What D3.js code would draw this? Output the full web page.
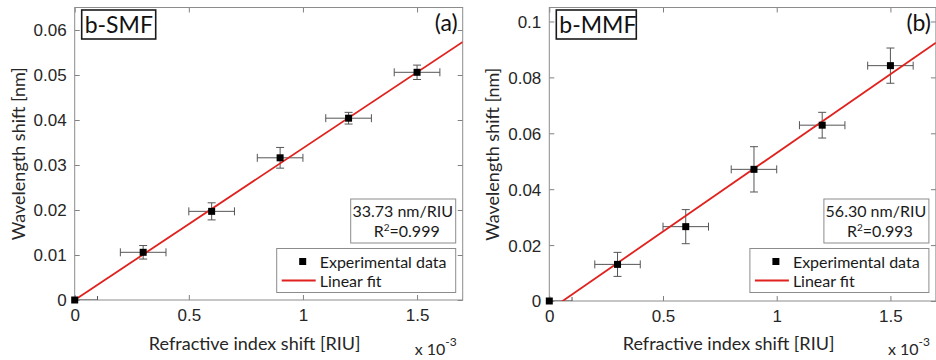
<!DOCTYPE html>
<html>
<head>
<meta charset="utf-8">
<script src="https://cdn.jsdelivr.net/npm/d3@7"></script>
<style>
  body { margin: 0; background: #fff; }
  svg { display: block; font-family: Lato, "Noto Sans", sans-serif; }
  .tick text { fill: #262626; font-size: 17px; }
  .tick line { stroke: #808080; }
  .domain { display: none; }
</style>
</head>
<body>
<div id="chart"></div>
<script>
// refractive index shift, in units of 10^-3 RIU
const riuShift = [0, 0.3, 0.6, 0.9, 1.2, 1.5];
const riuErr = [0.1, 0.1, 0.1, 0.1, 0.1, 0.1];

// b-SMF wavelength shift [nm]
const smfShift = [0, 0.0106, 0.0197, 0.0316, 0.0404, 0.0506];
const smfErr = [0, 0.0015, 0.0019, 0.0023, 0.0013, 0.0016];
// b-MMF wavelength shift [nm]
const mmfShift = [0, 0.0131, 0.0266, 0.0471, 0.0629, 0.0842];
const mmfErr = [0, 0.0043, 0.0061, 0.0081, 0.0046, 0.0063];

// linear fits: slope [nm per 10^-3 RIU], intercept [nm]
const fitSlope = [0.03373, 0.0563];
const fitIntercept = [0, -0.0033];

const panelNames = ['b-SMF', 'b-MMF'];
const panelTags = ['(a)', '(b)'];
const sensitivity = ['33.73 nm/RIU', '56.30 nm/RIU'];
const rSquared = ['0.999', '0.993'];
const xTicks = [0, 0.5, 1, 1.5];
const yTicksSmf = [0, 0.01, 0.02, 0.03, 0.04, 0.05, 0.06];
const yTicksMmf = [0, 0.02, 0.04, 0.06, 0.08, 0.1];

const W = 936, H = 360;
const svg = d3.select('#chart').append('svg')
  .attr('width', W)
  .attr('height', H);

const panels = [
  { left: 74.7, right: 462.7, top: 7.5, bottom: 300, yMax: 0.065, ys: smfShift, ye: smfErr, yTicks: yTicksSmf, fmt: d3.format('.2f') },
  { left: 549.3, right: 935.9, top: 7.5, bottom: 301, yMax: 0.105, ys: mmfShift, ye: mmfErr, yTicks: yTicksMmf, fmt: d3.format('.2f') }
];

panels.forEach((p, i) => drawPanel(p, i));

function drawPanel(p, i) {
  const x = d3.scaleLinear().domain([0, 1.7]).range([p.left, p.right]);
  const y = d3.scaleLinear().domain([0, p.yMax]).range([p.bottom, p.top]);
  const g = svg.append('g');

  const clipId = 'clip' + i;
  svg.append('clipPath').attr('id', clipId)
    .append('rect')
    .attr('x', p.left).attr('y', p.top)
    .attr('width', p.right - p.left).attr('height', p.bottom - p.top);

  const yFmt = d => d === 0 ? '0' : (i === 1 && d === 0.1 ? '0.1' : p.fmt(d));
  const xFmt = d => d === 0 ? '0' : d3.format('~g')(d);

  // axes with inward ticks
  g.append('g').attr('transform', `translate(0,${p.bottom})`)
    .call(d3.axisBottom(x).tickValues(xTicks).tickSize(-5).tickSizeOuter(0).tickPadding(9).tickFormat(xFmt));
  g.append('g').attr('transform', `translate(0,${p.top})`)
    .call(d3.axisTop(x).tickValues(xTicks).tickSize(-5).tickSizeOuter(0).tickFormat(''));
  g.append('g').attr('transform', `translate(${p.left},0)`)
    .call(d3.axisLeft(y).tickValues(p.yTicks).tickSize(-5).tickSizeOuter(0).tickPadding(8).tickFormat(yFmt));
  g.append('g').attr('transform', `translate(${p.right},0)`)
    .call(d3.axisRight(y).tickValues(p.yTicks).tickSize(-5).tickSizeOuter(0).tickFormat(''));
  g.selectAll('.tick text').attr('dy', null);
  g.selectAll('.tick text').filter(function() { return this.parentNode.parentNode.getAttribute('transform').startsWith('translate(0'); })
    .attr('dy', '0.71em');
  g.selectAll('.tick text').filter(function() { return !this.parentNode.parentNode.getAttribute('transform').startsWith('translate(0'); })
    .attr('dy', '0.35em');

  g.append('rect')
    .attr('x', p.left).attr('y', p.top)
    .attr('width', p.right - p.left).attr('height', p.bottom - p.top)
    .attr('fill', 'none').attr('stroke', '#8c8c8c').attr('stroke-width', 1);

  const pts = riuShift.map((d, k) => ({ x: d, xe: riuErr[k], y: p.ys[k], ye: p.ye[k] }));
  const eb = g.append('g').attr('clip-path', `url(#${clipId})`)
    .attr('stroke', '#555').attr('stroke-width', 1).attr('fill', 'none');

  pts.forEach(d => {
    const cx = x(d.x), cy = y(d.y);
    if (d.ye > 0) {
      const y0 = y(d.y - d.ye), y1 = y(d.y + d.ye);
      eb.append('line').attr('x1', cx).attr('x2', cx).attr('y1', y0).attr('y2', y1);
      eb.append('line').attr('x1', cx - 4).attr('x2', cx + 4).attr('y1', y0).attr('y2', y0);
      eb.append('line').attr('x1', cx - 4).attr('x2', cx + 4).attr('y1', y1).attr('y2', y1);
    }
    const x0 = x(d.x - d.xe), x1 = x(d.x + d.xe);
    eb.append('line').attr('x1', x0).attr('x2', x1).attr('y1', cy).attr('y2', cy);
    eb.append('line').attr('x1', x0).attr('x2', x0).attr('y1', cy - 4).attr('y2', cy + 4);
    eb.append('line').attr('x1', x1).attr('x2', x1).attr('y1', cy - 4).attr('y2', cy + 4);
  });

  // linear fit
  const fx = [0, 1.7];
  const line = d3.line().x(d => x(d)).y(d => y(fitSlope[i] * d + fitIntercept[i]));
  g.append('path').datum(fx)
    .attr('clip-path', `url(#${clipId})`)
    .attr('d', line)
    .attr('fill', 'none').attr('stroke', '#e0211d').attr('stroke-width', 1.8);

  // markers
  g.selectAll('rect.mk').data(pts).join('rect')
    .attr('class', 'mk')
    .attr('x', d => x(d.x) - 3.5).attr('y', d => y(d.y) - 3.5)
    .attr('width', 7).attr('height', 7).attr('fill', '#000');

  // panel name box
  const nameBox = g.append('g');
  nameBox.append('rect')
    .attr('x', p.left + 7).attr('y', p.top + 2.5)
    .attr('width', i === 0 ? 74 : 80).attr('height', 29)
    .attr('fill', '#fff').attr('stroke', '#1a1a1a').attr('stroke-width', 1.6);
  nameBox.append('text')
    .attr('x', p.left + 10).attr('y', p.top + 25)
    .attr('font-size', 23).attr('fill', '#111')
    .text(panelNames[i]);

  g.append('text')
    .attr('x', p.right - 5).attr('y', p.top + 23)
    .attr('text-anchor', 'end').attr('font-size', 23).attr('fill', '#111')
    .text(panelTags[i]);

  // sensitivity box
  const bx = p.right - 112, by = 199;
  g.append('rect').attr('x', bx).attr('y', by).attr('width', 105).attr('height', 44)
    .attr('fill', '#fff').attr('stroke', '#8c8c8c');
  g.append('text').attr('x', bx + 52).attr('y', by + 18)
    .attr('text-anchor', 'middle').attr('font-size', 16).attr('fill', '#1a1a1a')
    .text(sensitivity[i]);
  const r2 = g.append('text').attr('x', bx + 56).attr('y', by + 38)
    .attr('text-anchor', 'middle').attr('font-size', 16).attr('fill', '#1a1a1a');
  r2.append('tspan').text('R');
  r2.append('tspan').attr('font-size', 10).attr('dy', -6).text('2');
  r2.append('tspan').attr('dy', 6).text('=' + rSquared[i]);

  // legend
  const lx = p.right - 186, ly = 248.5;
  g.append('rect').attr('x', lx).attr('y', ly).attr('width', 179).attr('height', 44)
    .attr('fill', '#fff').attr('stroke', '#8c8c8c');
  g.append('rect').attr('x', lx + 22.5).attr('y', ly + 9.5).attr('width', 7).attr('height', 7).attr('fill', '#000');
  g.append('text').attr('x', lx + 43).attr('y', ly + 19).attr('font-size', 16).attr('fill', '#1a1a1a')
    .text('Experimental data');
  g.append('line').attr('x1', lx + 5).attr('x2', lx + 39).attr('y1', ly + 32).attr('y2', ly + 32)
    .attr('stroke', '#e0211d').attr('stroke-width', 1.8);
  g.append('text').attr('x', lx + 43).attr('y', ly + 38).attr('font-size', 16).attr('fill', '#1a1a1a')
    .text('Linear fit');

  // axis titles
  g.append('text')
    .attr('x', (p.left + p.right) / 2 - 14).attr('y', 350)
    .attr('text-anchor', 'middle').attr('font-size', 18).attr('fill', '#262626')
    .text('Refractive index shift [RIU]');
  const ex = g.append('text')
    .attr('x', p.right - 48).attr('y', 355)
    .attr('font-size', 16).attr('fill', '#262626');
  ex.append('tspan').text('x 10');
  ex.append('tspan').attr('dy', -9).attr('font-size', 12).text('-3');

  g.append('text')
    .attr('transform', `translate(${p.left - 50},${(p.top + p.bottom) / 2}) rotate(-90)`)
    .attr('text-anchor', 'middle').attr('font-size', 18).attr('fill', '#262626')
    .text('Wavelength shift [nm]');
}
</script>
</body>
</html>
